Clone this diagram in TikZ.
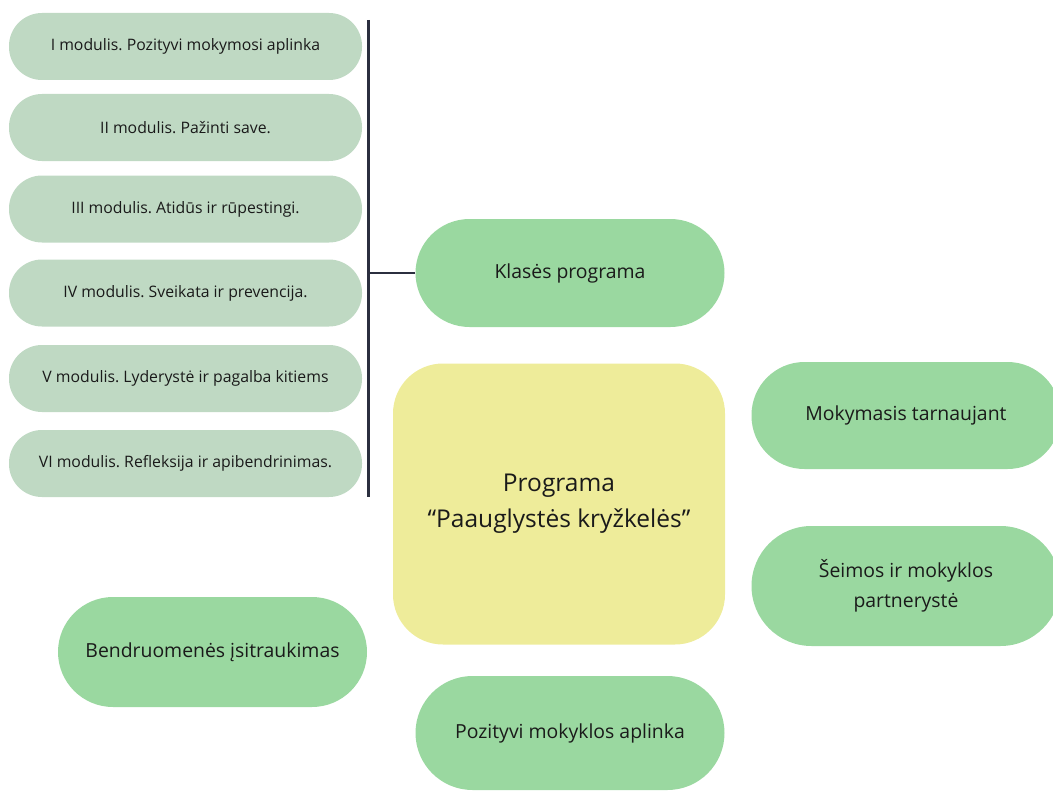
\documentclass[tikz,border=0pt]{standalone}
\usepackage{fontspec}
\setmainfont{Open Sans}
\frenchspacing
\definecolor{modfill}{RGB}{191,217,195}
\definecolor{pillfill}{RGB}{154,216,160}
\definecolor{corefill}{RGB}{238,236,154}
\definecolor{barcol}{RGB}{43,47,63}
\definecolor{txt}{RGB}{26,26,26}
\begin{document}
\begin{tikzpicture}[x=1pt,y=-1pt,
  modbox/.style={fill=modfill,draw=none,rounded corners=33pt,minimum width=353pt,
    minimum height=67pt,inner sep=0pt,text=txt,font=\fontsize{15.8}{18}\selectfont},
  pill/.style={fill=pillfill,draw=none,minimum width=309pt,inner sep=0pt,text=txt,
    align=center,font=\fontsize{19.4}{31}\selectfont},
  corebox/.style={fill=corefill,draw=none,rounded corners=50pt,minimum width=332pt,
    minimum height=281pt,inner sep=0pt,text=txt,align=center,
    font=\fontsize{24.5}{36}\selectfont},
  bar/.style={draw=barcol,line width=3pt}]
  \useasboundingbox (0,0) rectangle (1053,792);
  \clip (0,0) rectangle (1053,792);

  % six modules of the class programme
  \node[modbox] (m1) at (185.5,46.5) {I modulis. Pozityvi mokymosi aplinka};
  \node[modbox] (m2) at (185.5,127.5) {II modulis. Pažinti save.};
  \node[modbox] (m3) at (185.5,209) {III modulis. Atidūs ir rūpestingi.};
  \node[modbox] (m4) at (185.5,293) {IV modulis. Sveikata ir prevencija.};
  \node[modbox] (m5) at (185.5,378.5) {V modulis. Lyderystė ir pagalba kitiems};
  \node[modbox] (m6) at (185.5,463.5) {VI modulis. Refleksija ir apibendrinimas.};

  % programme components
  \node[pill,minimum height=108pt,rounded corners=54pt] (klases) at (570,273) {Klasės programa};
  \node[corebox] (core) at (559,504) {Programa\\“Paauglystės kryžkelės”};
  \node[pill,minimum height=107pt,rounded corners=53pt] (tarn) at (906,415.5) {Mokymasis tarnaujant};
  \node[pill,minimum height=120pt,rounded corners=60pt,font=\fontsize{19.4}{30}\selectfont] (seima) at (906,586) {Šeimos ir mokyklos\\partnerystė};
  \node[pill,minimum height=110pt,rounded corners=55pt] (bendr) at (212.5,652) {Bendruomenės įsitraukimas};
  \node[pill,minimum height=114pt,rounded corners=57pt] (aplinka) at (570,733) {Pozityvi mokyklos aplinka};

  % bracket joining the modules to the class programme
  \coordinate (bt) at (368,20);
  \coordinate (bb) at (368,497);
  \draw[bar] (bt) -- (bb);
  \draw[bar,line width=2.4pt] (klases.west) -- (klases.west -| bt);
\end{tikzpicture}
\end{document}
